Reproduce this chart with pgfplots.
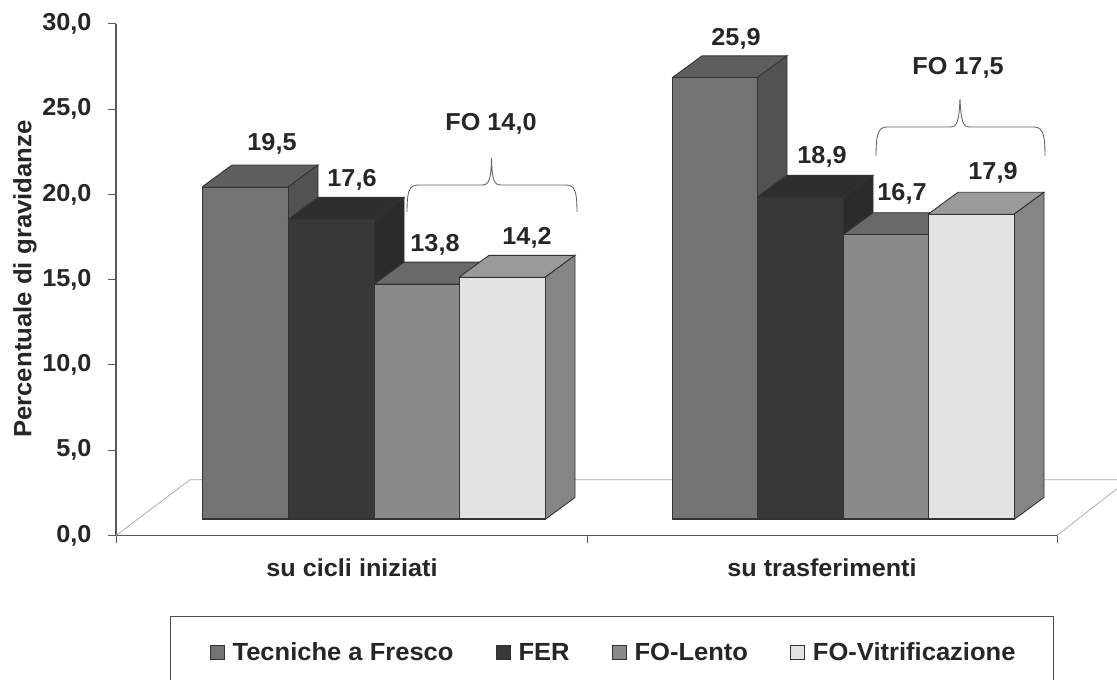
\documentclass[border=0pt]{standalone}
\usepackage{pgfplots}
\pgfplotsset{compat=1.18}
\usepackage{fontspec}
\setmainfont[FakeStretch=1.03]{Liberation Sans}
\definecolor{aF}{HTML}{737373}\definecolor{aT}{HTML}{5E5E5E}\definecolor{aS}{HTML}{525252}
\definecolor{bF}{HTML}{383838}\definecolor{bT}{HTML}{2E2E2E}\definecolor{bS}{HTML}{2B2B2B}
\definecolor{cF}{HTML}{8A8A8A}\definecolor{cT}{HTML}{696969}\definecolor{cS}{HTML}{6E6E6E}
\definecolor{dF}{HTML}{E3E3E3}\definecolor{dT}{HTML}{9A9A9A}\definecolor{dS}{HTML}{858585}
\definecolor{edge}{HTML}{333333}
\newcommand\cube[6]{%
  \pgfmathsetmacro\ytop{#3+0.94}\pgfmathsetmacro\yback{\ytop+1.29}%
  \pgfmathsetmacro\xa{#1+30}\pgfmathsetmacro\xb{#2+30}%
  \edef\doit{\noexpand\addplot[forget plot,fill=#5,draw=edge,line width=0.9pt] coordinates {(#1,\ytop) (\xa,\yback) (\xb,\yback) (#2,\ytop) (#1,\ytop)};
  \noexpand\addplot[forget plot,fill=#6,draw=edge,line width=0.9pt] coordinates {(#2,0.94) (\xb,2.23) (\xb,\yback) (#2,\ytop) (#2,0.94)};
  \noexpand\addplot[forget plot,fill=#4,draw=edge,line width=0.9pt] coordinates {(#1,0.94) (#1,\ytop) (#2,\ytop) (#2,0.94) (#1,0.94)};
  \noexpand\addplot[forget plot,draw=edge,line width=2pt] coordinates {(#1,0.94) (#2,0.94)};}\doit}
\begin{document}
\begin{tikzpicture}
\useasboundingbox (0,0) rectangle (1117pt,680pt);
\begin{axis}[
  at={(116pt,144.5pt)},anchor=south west,
  scale only axis,width=941pt,height=511.5pt,
  xmin=116,xmax=1057,ymin=0,ymax=30,clip=false,
  axis lines=left,axis line style={-,draw=black!65,line width=1.2pt},
  xtick={116,587,1057},xticklabels={},
  extra x ticks={352,822},
  extra x tick labels={su cicli iniziati,su trasferimenti},
  extra x tick style={major tick length=0pt,tick label style={yshift=-20pt}},
  ytick={0,5,...,30},
  tick align=outside,major tick length=8pt,
  tick style={draw=black!65,line width=1pt},
  yticklabel style={/pgf/number format/fixed,/pgf/number format/fixed zerofill,/pgf/number format/precision=1,/pgf/number format/use comma,/pgf/number format/assume math mode=true,xshift=-13pt},
  ticklabel style={font=\bfseries\fontsize{24.5}{28}\selectfont,text=black!85},
  legend columns=4,
  legend image code/.code={\path (-3pt,0pt); \draw[#1,line width=0.7pt] (0pt,-7pt) rectangle (14pt,7pt);},
  legend style={at={(axis cs:170,-4.72)},anchor=north west,draw=black!70,line width=1.2pt,
    font=\bfseries\fontsize{24.8}{29}\selectfont,text=black!85,
    inner xsep=36pt,inner ysep=24pt,
    /tikz/every even column/.append style={column sep=37pt},
    /tikz/every odd column/.append style={column sep=6pt}},
]
\addlegendimage{fill=aF,draw=edge}
\addlegendentry{Tecniche a Fresco}
\addlegendimage{fill=bF,draw=edge}
\addlegendentry{FER}
\addlegendimage{fill=cF,draw=edge}
\addlegendentry{FO-Lento}
\addlegendimage{fill=dF,draw=edge}
\addlegendentry{FO-Vitrificazione}
% floor
\addplot[forget plot,draw=black!35,line width=0.7pt] coordinates {(116,0) (190,3.27) (1117,3.27)};
\addplot[forget plot,draw=black!35,line width=0.7pt] coordinates {(1057,0) (1117,2.75)};
% group 1
\cube{202}{288}{19.5}{aF}{aT}{aS}
\cube{288}{374}{17.6}{bF}{bT}{bS}
\cube{374}{459}{13.8}{cF}{cT}{cS}
\cube{459}{545}{14.2}{dF}{dT}{dS}
% group 2
\cube{672}{757}{25.9}{aF}{aT}{aS}
\cube{757}{843}{18.9}{bF}{bT}{bS}
\cube{843}{928}{16.7}{cF}{cT}{cS}
\cube{928}{1014}{17.9}{dF}{dT}{dS}
\end{axis}
\begin{scope}[shift={(0,680pt)},x=1pt,y=-1pt,every node/.style={font=\bfseries\fontsize{24.5}{28}\selectfont,text=black!85}]
\node at (272,144) {19,5};
\node at (352,180) {17,6};
\node at (435,245) {13,8};
\node at (527,238) {14,2};
\node at (736,39) {25,9};
\node at (822,157) {18,9};
\node at (902,194) {16,7};
\node at (993,173) {17,9};
\node at (491,124) {FO 14,0};
\node at (958,68) {FO 17,5};
\draw[black!60,line width=0.9pt] (407,212) .. controls (407,192) and (409,185) .. (418,185) -- (482,185) .. controls (489,185) and (491,180) .. (491.5,158) .. controls (492,180) and (494,185) .. (501,185) -- (566,185) .. controls (575,185) and (577,192) .. (577,212);
\draw[black!60,line width=0.9pt] (876,156) .. controls (876,135) and (878,127) .. (887,127) -- (950,127) .. controls (957,127) and (959,122) .. (960,99) .. controls (961,122) and (963,127) .. (970,127) -- (1034,127) .. controls (1043,127) and (1045,135) .. (1045,156);
\node[rotate=90,font=\bfseries\fontsize{25}{29}\selectfont] at (25,279) {Percentuale di gravidanze};
\end{scope}
\end{tikzpicture}
\end{document}
